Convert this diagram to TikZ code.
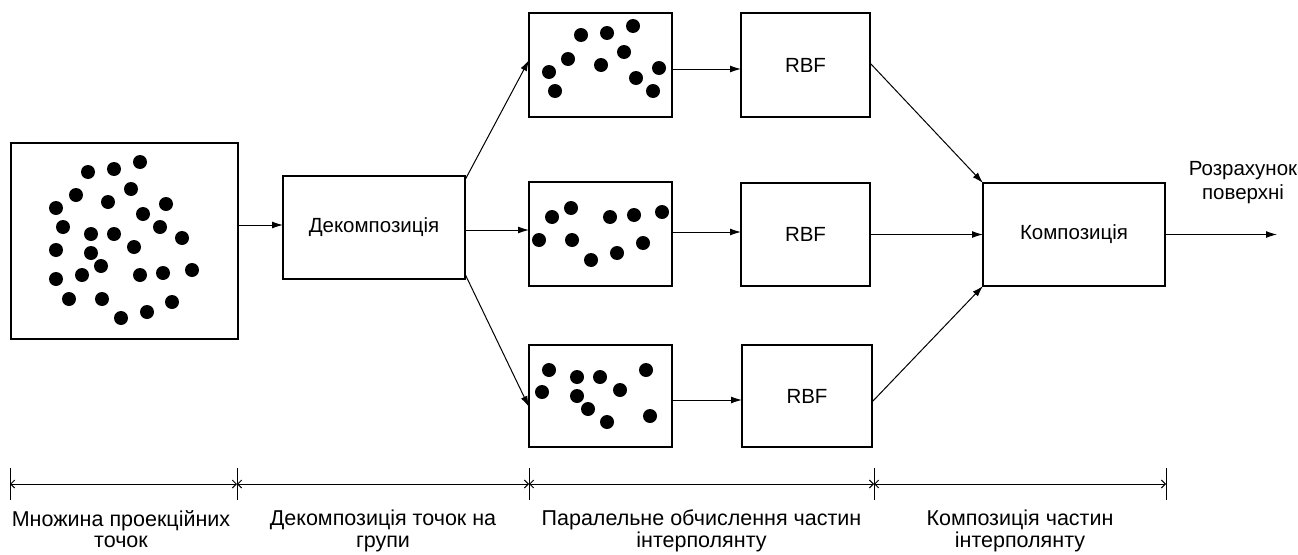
\documentclass[tikz,border=0pt]{standalone}
\usepackage{fontspec}
\setmainfont{Liberation Sans}
\usetikzlibrary{arrows.meta,calc}
\tikzset{
  blk/.style={draw, line width=1.3pt, inner sep=0pt, outer sep=0pt, font=\fontsize{20.5}{23}\selectfont},
  conn/.style={line width=1pt, -{Latex[length=11pt,width=7pt]}},
  dimline/.style={line width=1pt, {Straight Barb[length=4pt,width=8pt]}-{Straight Barb[length=4pt,width=8pt]}},
  tick/.style={line width=1pt},
  lbl/.style={align=center, inner sep=0pt, font=\fontsize{21.5}{21.5}\selectfont},
  dot/.style={fill=black}
}
\begin{document}
\begin{tikzpicture}[x=1pt,y=-1pt]
\useasboundingbox (0,0) rectangle (1298,554);
\fill[white] (0,0) rectangle (1298,554);

% boxes
\node[blk, minimum width=227pt, minimum height=196pt] (L) at (124.5,241) {};
\node[blk, minimum width=182pt, minimum height=103pt] (D) at (374,227.5) {Декомпозиція};
\node[blk, minimum width=143pt, minimum height=104pt] (T1) at (600.5,65) {};
\node[blk, minimum width=143pt, minimum height=104pt] (T2) at (600.5,234) {};
\node[blk, minimum width=143pt, minimum height=102pt] (T3) at (600.5,396) {};
\node[blk, minimum width=129pt, minimum height=104pt] (R1) at (805.5,65) {RBF};
\node[blk, minimum width=129pt, minimum height=103pt] (R2) at (805.5,234.5) {RBF};
\node[blk, minimum width=130pt, minimum height=102pt] (R3) at (807,396) {RBF};
\node[blk, minimum width=182pt, minimum height=103pt] (C) at (1074,234.5) {Композиція};

% dots
\foreach \p in {(88,172),(114,169),(140,162),(76,195),(131,189),(108,202),(166,204),(56,208),(143,214),(63,227),(91,234),(114,234),(160,227),(182,238),(56,250),(91,253),(134,247),(101,266),(56,279),(82,275),(140,275),(163,273),(192,270),(69,299),(102,299),(172,302),(147,312),(121,318)}
  \fill[dot] \p circle (7);
\foreach \p in {(581,35),(607,33),(633,26),(624,52),(568,59),(601,65),(549,72),(659,68),(636,78),(555,91),(653,91)}
  \fill[dot] \p circle (7);
\foreach \p in {(571,208),(552,217),(610,217),(634,215),(662,212),(539,240),(572,240),(643,243),(617,253),(591,260)}
  \fill[dot] \p circle (7);
\foreach \p in {(549,370),(577,377),(600,377),(646,370),(542,392),(620,390),(577,396),(588,409),(607,422),(650,416)}
  \fill[dot] \p circle (7);

% connectors
\draw[conn] (L.east |- 0,225) -- (D.west |- 0,225);
\draw[conn] ($(D.north east)+(0,4)$) -- (T1.west |- 0,60);
\draw[conn] (D.east |- 0,230) -- (T2.west |- 0,230);
\draw[conn] ($(D.south east)+(0,-5)$) -- (T3.west |- 0,407);
\draw[conn] (T1.east |- 0,69) -- (R1.west |- 0,69);
\draw[conn] (T2.east |- 0,232) -- (R2.west |- 0,232);
\draw[conn] (T3.east |- 0,400) -- (R3.west |- 0,400);
\draw[conn] (R1.east |- 0,63) -- (C.north west);
\draw[conn] (R2.east) -- (C.west);
\draw[conn] (R3.east |- 0,402) -- (C.south west);
\coordinate (out) at (1277,234.5);
\draw[conn] (C.east) -- (out);
\node[align=center, inner sep=0pt, font=\fontsize{20.5}{24}\selectfont] (outl) at (1243,183) {Розрахунок\\поверхні};

% timeline
\coordinate (t0) at (10,484);
\coordinate (t1) at (237,484);
\coordinate (t2) at (529,484);
\coordinate (t3) at (874,484);
\coordinate (t4) at (1166,484);
\foreach \c in {t0,t1,t2,t3,t4}
  \draw[tick] ($(\c)+(0,-16)$) -- ($(\c)+(0,16)$);
\draw[dimline] (t0) -- (t1);
\draw[dimline] (t1) -- (t2);
\draw[dimline] (t2) -- (t3);
\draw[dimline] (t3) -- (t4);

\node[lbl, anchor=north] (s1) at (121,510) {Множина проекційних\\точок};
\node[lbl, anchor=north] (s2) at (383,510) {Декомпозиція точок на\\групи};
\node[lbl, anchor=north] (s3) at (701.5,510) {Паралельне обчислення частин\\інтерполянту};
\node[lbl, anchor=north] (s4) at (1020,510) {Композиція частин\\інтерполянту};
\end{tikzpicture}
\end{document}
